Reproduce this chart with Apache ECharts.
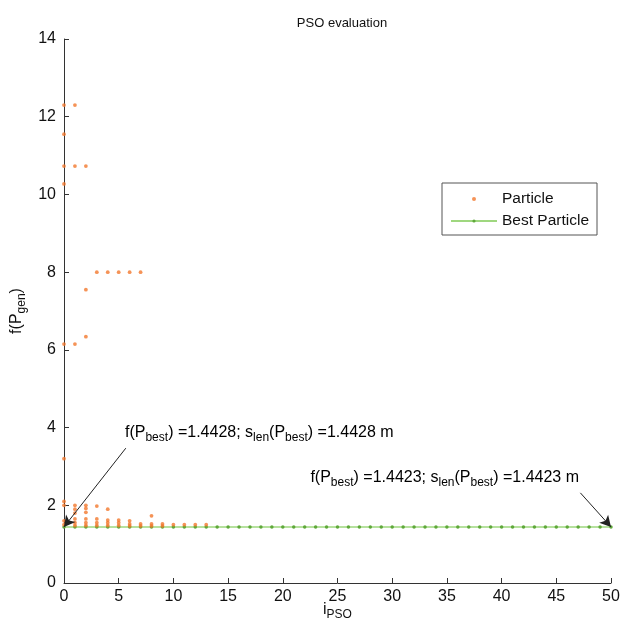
<!DOCTYPE html>
<html>
<head>
<meta charset="utf-8">
<script src="https://cdn.jsdelivr.net/npm/echarts@6/dist/echarts.min.js"></script>
<style>html,body{margin:0;padding:0;background:#fff;}#c{width:621px;height:630px;}</style>
</head>
<body>
<div id="c"></div>
<script>
// Particle evaluations: [iteration, f(P)]
const particleX = [0,0,0,0,0,0,0,0,0,0,
  1,1,1,1,1,1,1,1,1,
  2,2,2,2,2,2,2,2,2,
  3,3,3,3,3,
  4,4,4,4,4,
  5,5,5,5,
  6,6,6,6,
  7,7,7,
  8,8,8,
  9,9,
  10,11,12,13];
const particleY = [12.3,11.55,10.73,10.27,6.15,3.2,2.1,2.0,1.6,1.5,
  12.3,10.73,6.15,2.0,1.9,1.8,1.65,1.55,1.48,
  10.73,7.55,6.34,2.0,1.92,1.82,1.65,1.55,1.48,
  8.0,1.98,1.65,1.55,1.48,
  8.0,1.9,1.62,1.55,1.48,
  8.0,1.62,1.55,1.48,
  8.0,1.6,1.52,1.47,
  8.0,1.52,1.47,
  1.73,1.52,1.47,
  1.52,1.47,
  1.5,1.5,1.5,1.5];
// Best particle per iteration
const bestX = [0,1,2,3,4,5,6,7,8,9,10,11,12,13,14,15,16,17,18,19,20,21,22,23,24,25,
  26,27,28,29,30,31,32,33,34,35,36,37,38,39,40,41,42,43,44,45,46,47,48,49,50];
const bestY = [1.4428,1.4428,1.4428,1.4428,1.4428,1.4427,1.4427,1.4426,1.4426,1.4425,
  1.4425,1.4424,1.4424,1.4424,1.4423,1.4423,1.4423,1.4423,1.4423,1.4423,
  1.4423,1.4423,1.4423,1.4423,1.4423,1.4423,1.4423,1.4423,1.4423,1.4423,
  1.4423,1.4423,1.4423,1.4423,1.4423,1.4423,1.4423,1.4423,1.4423,1.4423,
  1.4423,1.4423,1.4423,1.4423,1.4423,1.4423,1.4423,1.4423,1.4423,1.4423,1.4423];
const xTicks = {min: 0, max: 50, interval: 5};
const yTicks = {min: 0, max: 14, interval: 2};
// annotation arrows: [tail, head] in data coords
const arrow1 = [[5.65, 3.47], [0, 1.4428]];
const arrow2 = [[47.2, 2.32], [50, 1.4423]];

const FONT = 'Liberation Sans, Arial, sans-serif';
const chart = echarts.init(document.getElementById('c'));
const subRich = {
  m: {fontSize: 16, fontFamily: FONT, color: '#111', lineHeight: 22},
  s: {fontSize: 12, fontFamily: FONT, color: '#111', verticalAlign: 'bottom', lineHeight: 22, padding: [10, 0, 0, 0]}
};
chart.setOption({
  animation: false,
  backgroundColor: '#fff',
  title: {text: 'PSO evaluation', left: 337, top: 12, textAlign: 'center',
    textStyle: {fontSize: 13, fontWeight: 'normal', color: '#111', fontFamily: FONT}},
  grid: {left: 64, right: 10, top: 39, bottom: 47, outerBoundsMode: 'none', containLabel: false},
  xAxis: {type: 'value', min: xTicks.min, max: xTicks.max, interval: xTicks.interval,
    name: '{m|i}{s|PSO}', nameLocation: 'middle', nameGap: 16, nameMoveOverlap: false,
    nameTextStyle: {rich: subRich},
    axisLine: {show: true, onZero: false, lineStyle: {color: '#333', width: 1}},
    axisTick: {show: true, inside: true, length: 5, lineStyle: {color: '#333'}},
    axisLabel: {fontSize: 16, color: '#111', fontFamily: FONT, margin: 6},
    splitLine: {show: false}},
  yAxis: {type: 'value', min: yTicks.min, max: yTicks.max, interval: yTicks.interval,
    name: '{m|f(P}{s|gen}{m|)}', nameLocation: 'middle', nameGap: 36, nameRotate: 90, nameMoveOverlap: false,
    nameTextStyle: {rich: subRich},
    axisLine: {show: true, onZero: false, lineStyle: {color: '#333', width: 1}},
    axisTick: {show: true, inside: true, length: 5, lineStyle: {color: '#333'}},
    axisLabel: {fontSize: 16, color: '#111', fontFamily: FONT, margin: 8},
    splitLine: {show: false}},
  legend: {orient: 'vertical', left: 442, top: 183,
    data: ['Particle', 'Best Particle'],
    itemWidth: 46, itemHeight: 4, itemGap: 6,
    padding: [8, 8, 6, 8], borderColor: '#555', borderWidth: 1, backgroundColor: '#fff',
    textStyle: {fontSize: 15.5, color: '#111', fontFamily: FONT}},
  series: [
    {name: 'Particle', type: 'scatter', symbol: 'circle', symbolSize: 3.8,
      itemStyle: {color: '#f3782d'},
      data: particleX.map((x, i) => [x, particleY[i]]), z: 3},
    {name: 'Best Particle', type: 'line', symbol: 'circle', symbolSize: 3.5, showSymbol: true,
      itemStyle: {color: '#5fa83a'},
      lineStyle: {color: '#9fd77f', width: 1.5},
      data: bestX.map((x, i) => [x, bestY[i]]), z: 2,
      markLine: {silent: true, symbol: ['none', 'arrow'], symbolSize: [9, 11],
        lineStyle: {color: '#222', width: 1, type: 'solid'}, label: {show: false},
        data: [
          [{coord: arrow1[0]}, {coord: arrow1[1]}],
          [{coord: arrow2[0]}, {coord: arrow2[1]}]
        ]}}
  ],
  graphic: [
    {type: 'text', left: 125, top: 422, style: {
      text: '{m|f(P}{s|best}{m|) =1.4428; s}{s|len}{m|(P}{s|best}{m|) =1.4428 m}', rich: subRich}},
    {type: 'text', right: 42, top: 467, style: {
      text: '{m|f(P}{s|best}{m|) =1.4423; s}{s|len}{m|(P}{s|best}{m|) =1.4423 m}', rich: subRich}}
  ]
});
</script>
</body>
</html>
